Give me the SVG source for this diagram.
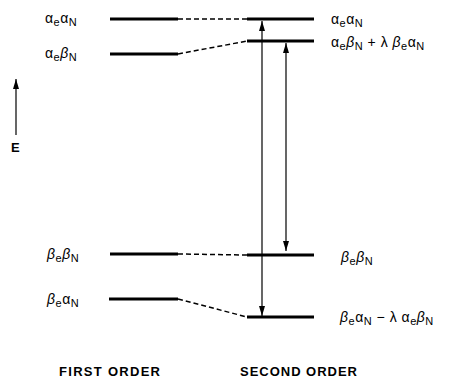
<svg xmlns="http://www.w3.org/2000/svg" width="449" height="380" viewBox="0 0 449 380">
<defs>
<style>
.lvl{stroke:#000;stroke-width:3;fill:none}
.dash{stroke:#000;stroke-width:1.5;fill:none;stroke-dasharray:5 3}
.arr{stroke:#000;stroke-width:1.2;fill:none}
.lbl{font-family:"Liberation Sans",Arial,sans-serif;font-size:14px;letter-spacing:0.5px;fill:#000}
.sub{font-size:11px}
.b{font-style:italic}
.hd{font-family:"Liberation Sans",Arial,sans-serif;font-size:13px;font-weight:bold;fill:#000}
</style>
<marker id="ah" viewBox="0 0 10 10" refX="10" refY="5" markerWidth="10" markerHeight="6" markerUnits="userSpaceOnUse" orient="auto-start-reverse" preserveAspectRatio="none">
<path d="M0,0 L10,5 L0,10 Z" fill="#000"/>
</marker>
</defs>
<g id="axis">
<line class="arr" x1="16" y1="135" x2="16" y2="79" marker-end="url(#ah)"/>
<text class="hd" x="11" y="152">E</text>
</g>
<g id="first-aa">
<line class="lvl" x1="110" y1="19" x2="178" y2="19"/>
<text class="lbl" x="45" y="23">α<tspan class="sub" dy="3">e</tspan><tspan dy="-3">α</tspan><tspan class="sub" dy="3">N</tspan></text>
</g>
<g id="first-ab">
<line class="lvl" x1="110" y1="54" x2="178" y2="54"/>
<text class="lbl" x="45" y="58">α<tspan class="sub" dy="3">e</tspan><tspan class="b" dy="-3">β</tspan><tspan class="sub" dy="3">N</tspan></text>
</g>
<g id="first-bb">
<line class="lvl" x1="110" y1="254" x2="178" y2="254"/>
<text class="lbl" x="47" y="259"><tspan class="b">β</tspan><tspan class="sub" dy="3">e</tspan><tspan class="b" dy="-3">β</tspan><tspan class="sub" dy="3">N</tspan></text>
</g>
<g id="first-ba">
<line class="lvl" x1="109" y1="299" x2="178" y2="299"/>
<text class="lbl" x="47" y="304"><tspan class="b">β</tspan><tspan class="sub" dy="3">e</tspan><tspan dy="-3">α</tspan><tspan class="sub" dy="3">N</tspan></text>
</g>
<g id="second-aa">
<line class="lvl" x1="247" y1="19" x2="314" y2="19"/>
<text class="lbl" x="331" y="24">α<tspan class="sub" dy="3">e</tspan><tspan dy="-3">α</tspan><tspan class="sub" dy="3">N</tspan></text>
</g>
<g id="second-ab">
<line class="lvl" x1="247" y1="41" x2="314" y2="41"/>
<text class="lbl" x="331" y="47">α<tspan class="sub" dy="3">e</tspan><tspan class="b" dy="-3">β</tspan><tspan class="sub" dy="3">N</tspan><tspan dy="-3"> + λ </tspan><tspan class="b">β</tspan><tspan class="sub" dy="3">e</tspan><tspan dy="-3">α</tspan><tspan class="sub" dy="3">N</tspan></text>
</g>
<g id="second-bb">
<line class="lvl" x1="247" y1="255" x2="314" y2="255"/>
<text class="lbl" x="341" y="262"><tspan class="b">β</tspan><tspan class="sub" dy="3">e</tspan><tspan class="b" dy="-3">β</tspan><tspan class="sub" dy="3">N</tspan></text>
</g>
<g id="second-ba">
<line class="lvl" x1="247" y1="317" x2="314" y2="317"/>
<text class="lbl" x="340" y="322"><tspan class="b">β</tspan><tspan class="sub" dy="3">e</tspan><tspan dy="-3">α</tspan><tspan class="sub" dy="3">N</tspan><tspan dy="-3"> − λ α</tspan><tspan class="sub" dy="3">e</tspan><tspan class="b" dy="-3">β</tspan><tspan class="sub" dy="3">N</tspan></text>
</g>
<g id="connectors">
<line class="dash" x1="178" y1="19" x2="247" y2="19"/>
<line class="dash" x1="178" y1="54" x2="247" y2="41"/>
<line class="dash" x1="178" y1="254" x2="247" y2="255"/>
<line class="dash" x1="178" y1="299" x2="247" y2="317"/>
<line class="arr" x1="262" y1="21" x2="262" y2="316" marker-start="url(#ah)" marker-end="url(#ah)"/>
<line class="arr" x1="286" y1="43" x2="286" y2="251" marker-start="url(#ah)" marker-end="url(#ah)"/>
</g>
<text class="hd" x="59" y="376" textLength="101" lengthAdjust="spacing">FIRST ORDER</text>
<text class="hd" x="240" y="376" textLength="117" lengthAdjust="spacing">SECOND ORDER</text>
</svg>
